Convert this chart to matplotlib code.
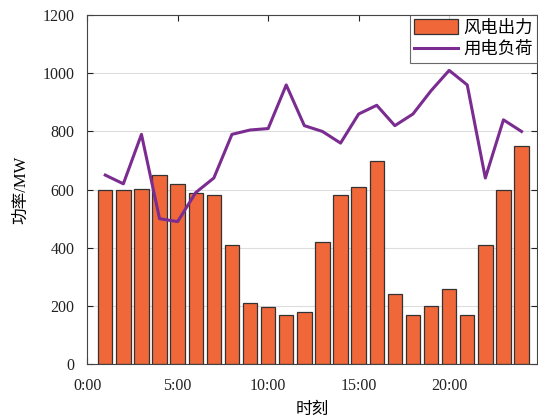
import numpy as np
import matplotlib
matplotlib.use("Agg")
import matplotlib.pyplot as plt

plt.rcParams['font.family'] = ['Liberation Serif', 'Noto Sans CJK SC']

hours = list(range(1, 25))
wind = [600, 600, 602, 650, 620, 590, 580, 410, 210, 195, 170, 180,
        420, 580, 610, 700, 240, 170, 200, 260, 170, 410, 600, 750]
load = [650, 620, 790, 500, 490, 590, 640, 790, 805, 810, 960, 820,
        800, 760, 860, 890, 820, 860, 940, 1010, 960, 640, 840, 800]
xticks = [0, 5, 10, 15, 20]
xticklabels = ["0:00", "5:00", "10:00", "15:00", "20:00"]

fig = plt.figure(figsize=(5.38, 4.2), dpi=100)
ax = fig.add_axes([0.162, 0.133, 0.836, 0.831])

bars = ax.bar(hours, wind, width=0.8, color="#F0683A", edgecolor="#333333",
              linewidth=0.9, label="风电出力", zorder=2)
line, = ax.plot(hours, load, color="#7B2C90", linewidth=2.2, label="用电负荷", zorder=3)

ax.set_xlim(0, 24.85)
ax.set_ylim(0, 1200)
ax.set_xticks(xticks)
ax.set_xticklabels(xticklabels)
ax.set_yticks(np.arange(0, 1201, 200))
ax.grid(axis="y", color="#dddddd", linewidth=0.8, zorder=0)
ax.set_axisbelow(True)
ax.tick_params(direction="in", top=True, right=True, labelsize=11.5,
               colors="#222222", length=4)
ax.tick_params(axis="x", pad=10)
ax.tick_params(axis="y", pad=9)
for s in ax.spines.values():
    s.set_color("#444444")
    s.set_linewidth(0.8)

ax.set_xlabel("时刻", fontsize=12, labelpad=6)
ax.set_ylabel("功率/MW", fontsize=12, labelpad=10)

leg = ax.legend([bars, line], ["风电出力", "用电负荷"], loc="upper right",
                fontsize=12.5, frameon=True, fancybox=False,
                borderpad=0.25, handlelength=2.5, handleheight=0.9,
                handletextpad=0.3, borderaxespad=0.0, labelspacing=0.25)
leg.get_frame().set_edgecolor("#444444")
leg.get_frame().set_linewidth(0.8)

fig.savefig("out.png", dpi=100)
